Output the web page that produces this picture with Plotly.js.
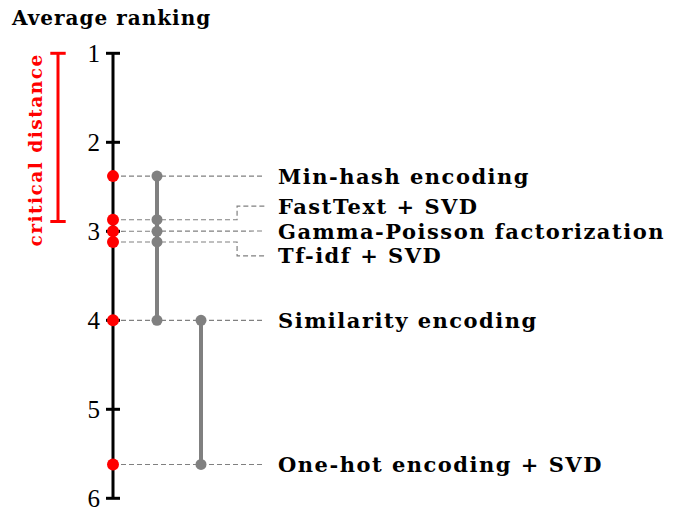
<!DOCTYPE html>
<html>
<head>
<meta charset="utf-8">
<script src="https://cdn.plot.ly/plotly-3.0.1.min.js"></script>
<style>
html,body{margin:0;padding:0;background:#fff;}
#chart{width:673px;height:508px;}
.annotation-text{letter-spacing:1.5px;}
.gtitle{letter-spacing:1px;}
</style>
</head>
<body>
<div id="chart"></div>
<script>
// ---- data ----
const methods = ["Min-hash encoding", "FastText + SVD", "Gamma-Poisson factorization", "Tf-idf + SVD", "Similarity encoding", "One-hot encoding + SVD"];
const avgRank = [2.38, 2.87, 3.00, 3.12, 4.00, 5.62];
const cliques = [[0, 1, 2, 3, 4], [4, 5]];
const criticalDistance = 1.89;
const tickVals = [1, 2, 3, 4, 5, 6];
const tickText = ["1", "2", "3", "4", "5", "6"];
const axisTitle = "Average ranking";
const cdLabel = "critical distance";

// ---- layout helpers (pixel geometry) ----
const W = 673, H = 508;
const unitPx = 44;
const axisPx = 113;
const xRange = [-axisPx / unitPx, (W - axisPx) / unitPx];
const topRankPx = 53.3, pxPerRank = 89;
const yRange = [tickVals[tickVals.length - 1] + (H - (topRankPx + pxPerRank * (tickVals.length - 1))) / pxPerRank,
                tickVals[0] - topRankPx / pxPerRank];
const lineEndX = 3.45, elbowX = 2.82, labelX = 3.70, cdX = -1.25, cdTextX = -1.77;
const minGap = 0.28;
const SERIF_B = "DejaVu Serif, serif";
const SERIF = "Liberation Serif, Times New Roman, serif";
const GRAY = "#808080", RED = "#ff0000";

function spreadLabels(ranks, gap) {
  const idx = ranks.map((r, i) => i).sort((a, b) => ranks[a] - ranks[b]);
  let groups = idx.map(i => [i]);
  const pos = {};
  let changed = true;
  while (changed) {
    changed = false;
    groups.forEach(g => {
      const c = g.reduce((s, i) => s + ranks[i], 0) / g.length;
      g.forEach((i, k) => { pos[i] = c + (k - (g.length - 1) / 2) * gap; });
    });
    for (let k = 0; k < groups.length - 1; k++) {
      const a = groups[k], b = groups[k + 1];
      if (pos[b[0]] - pos[a[a.length - 1]] < gap - 1e-9) {
        groups.splice(k, 2, a.concat(b));
        changed = true;
        break;
      }
    }
  }
  return ranks.map((r, i) => pos[i]);
}
const labelY = spreadLabels(avgRank, minGap);

const traces = [];
methods.forEach((m, i) => {
  const r = avgRank[i], ly = labelY[i];
  let xs, ys;
  if (Math.abs(ly - r) < 1e-6) { xs = [0, lineEndX]; ys = [r, r]; }
  else { xs = [0, elbowX, elbowX, lineEndX]; ys = [r, r, ly, ly]; }
  traces.push({x: xs, y: ys, mode: "lines", line: {color: GRAY, width: 1.2, dash: "5px,3px"}, hoverinfo: "skip", showlegend: false});
});
traces.push({x: [0, 0], y: [tickVals[0], tickVals[tickVals.length - 1]], mode: "lines", line: {color: "#000", width: 3}, hoverinfo: "skip", showlegend: false});
traces.push({x: tickVals.map(() => 0), y: tickVals, mode: "markers", marker: {symbol: "line-ew", size: 10, line: {color: "#000", width: 3}}, hoverinfo: "skip", showlegend: false});
cliques.forEach((c, k) => {
  const rs = c.map(i => avgRank[i]);
  const cx = k + 1;
  traces.push({x: [cx, cx], y: [Math.min(...rs), Math.max(...rs)], mode: "lines", line: {color: GRAY, width: 4}, hoverinfo: "skip", showlegend: false});
  traces.push({x: rs.map(() => cx), y: rs, mode: "markers", marker: {color: GRAY, size: 11}, hoverinfo: "skip", showlegend: false});
});
traces.push({x: avgRank.map(() => 0), y: avgRank, mode: "markers", marker: {color: RED, size: 12}, text: methods, hoverinfo: "text+y", showlegend: false});
traces.push({x: [cdX, cdX], y: [tickVals[0], tickVals[0] + criticalDistance], mode: "lines", line: {color: RED, width: 3}, hoverinfo: "skip", showlegend: false});
traces.push({x: [cdX, cdX], y: [tickVals[0], tickVals[0] + criticalDistance], mode: "markers", marker: {symbol: "line-ew", size: 11, line: {color: RED, width: 3}}, hoverinfo: "skip", showlegend: false});

const annotations = methods.map((m, i) => ({
  x: labelX, y: labelY[i], xref: "x", yref: "y", text: "<b>" + m + "</b>", showarrow: false,
  xanchor: "left", yanchor: "middle", align: "left", font: {family: SERIF_B, size: 21, color: "#000"}
}));
annotations.push({
  x: cdTextX, y: tickVals[0] + criticalDistance / 2, xref: "x", yref: "y", yshift: -13,
  text: "<b>" + cdLabel + "</b>", textangle: -90, showarrow: false,
  xanchor: "center", yanchor: "middle", font: {family: SERIF_B, size: 18.5, color: RED}
});

const layout = {
  width: W, height: H,
  margin: {l: 0, r: 0, t: 0, b: 0},
  paper_bgcolor: "#fff", plot_bgcolor: "#fff",
  title: {text: "<b>" + axisTitle + "</b>", x: 12 / W, xanchor: "left", xref: "paper", y: 1 - 18 / H, yanchor: "middle", yref: "container",
          font: {family: SERIF_B, size: 20, color: "#000"}},
  xaxis: {range: xRange, visible: false, fixedrange: true},
  yaxis: {range: yRange, anchor: "free", position: axisPx / W, side: "left", showline: false, showgrid: false, zeroline: false,
          ticks: "", tickvals: tickVals, ticktext: tickText, ticklabelstandoff: 13, ticklabeloverflow: "allow",
          tickfont: {family: SERIF, size: 25, color: "#000"}, fixedrange: true},
  annotations: annotations,
  showlegend: false
};
Plotly.newPlot("chart", traces, layout, {displayModeBar: false, staticPlot: true});
</script>
</body>
</html>
